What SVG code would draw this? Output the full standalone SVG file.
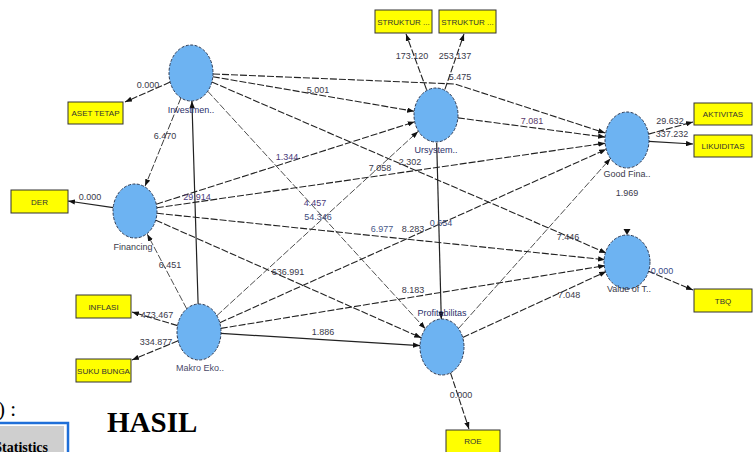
<svg xmlns="http://www.w3.org/2000/svg" width="756" height="452" viewBox="0 0 756 452">
<style>
.bg{fill:#ffffff}
.lv{fill:#6db3f2;stroke:#2b3a55;stroke-width:1;stroke-dasharray:3,1.5}
.ind{fill:#ffff00;stroke:#333333;stroke-width:1}
.e{fill:none;stroke:#222222;stroke-width:1.1;stroke-dasharray:7,2;marker-end:url(#ah)}
.s{fill:none;stroke:#222222;stroke-width:1.2;marker-end:url(#ah)}
.n{font-family:"Liberation Sans",Arial,sans-serif;font-size:9px;fill:#3a3a4a;text-anchor:middle}
.nl{font-family:"Liberation Sans",Arial,sans-serif;font-size:9px;fill:#2a2f6a;text-anchor:middle}
.bt{font-family:"Liberation Sans",Arial,sans-serif;font-size:8px;fill:#333333;text-anchor:middle}
.serif{font-family:"Liberation Serif","Times New Roman",serif;fill:#000000}
</style>
<defs>
<marker id="ah" viewBox="0 0 8 6" refX="8" refY="3" markerWidth="7" markerHeight="5.5" markerUnits="userSpaceOnUse" orient="auto">
<path d="M0,0 L8,3 L0,6 z" fill="#111111"/>
</marker>
</defs>
<rect class="bg" x="0" y="0" width="756" height="452"/>

<g id="connectors">
<line class="e" x1="212.8" y1="76.7" x2="414.2" y2="111.3"/>
<polyline class="e" points="213,74 455,84 605.2,133"/>
<line class="e" x1="211.8" y1="82" x2="606.2" y2="253"/>
<line class="e" x1="207.7" y1="91.2" x2="425.3" y2="328.8" style="stroke-width:0.8"/>
<line class="e" x1="180.9" y1="97.9" x2="145.1" y2="186.1" style="stroke-width:0.9"/>
<line class="s" x1="198.1" y1="304" x2="191.9" y2="101"/>
<line class="e" x1="186.7" y1="308.8" x2="147.3" y2="234.2" style="stroke-width:0.8"/>
<line class="e" x1="156.3" y1="204.2" x2="414.7" y2="121.8"/>
<line class="e" x1="156.8" y1="207.8" x2="605.2" y2="143.2"/>
<line class="e" x1="156.9" y1="213.3" x2="605.1" y2="259.7"/>
<line class="e" x1="155.8" y1="220.2" x2="421.2" y2="337.8"/>
<line class="e" x1="216.9" y1="315.6" x2="418.1" y2="131.4" style="stroke-width:0.8"/>
<line class="e" x1="219.8" y1="322.7" x2="606.2" y2="149.3"/>
<line class="e" x1="220.8" y1="328.4" x2="605.2" y2="265.6"/>
<line class="s" x1="221" y1="333.4" x2="420" y2="345.6"/>
<line class="e" x1="457.9" y1="117.9" x2="605.1" y2="137.1"/>
<line class="s" x1="436.7" y1="143" x2="441.3" y2="319"/>
<line class="e" x1="458.5" y1="328.5" x2="610.5" y2="158.5" style="stroke-width:0.8"/>
<line class="e" x1="462.7" y1="337.5" x2="606.3" y2="271.5"/>
<line class="e" x1="170.2" y1="82.1" x2="125" y2="102"/>
<line class="s" x1="113.2" y1="207.7" x2="68" y2="201"/>
<line class="e" x1="177.6" y1="325.6" x2="132" y2="312"/>
<line class="e" x1="178.1" y1="340.7" x2="132" y2="360"/>
<line class="e" x1="426.6" y1="89.7" x2="406" y2="34"/>
<line class="e" x1="444.9" y1="89.4" x2="464" y2="34"/>
<line class="e" x1="648.5" y1="134.1" x2="693" y2="122"/>
<line class="s" x1="649" y1="141.3" x2="693" y2="144"/>
<line class="e" x1="647.9" y1="270.9" x2="693" y2="290"/>
<line class="e" x1="450.5" y1="372.8" x2="469" y2="429"/>
<path d="M623.5,229 L630.5,229 L627,235 z" fill="#111111"/>
</g>

<g id="labels">
<text class="n" x="148" y="88">0.000</text>
<text class="n" x="165" y="139">6.470</text>
<text class="n" x="197" y="200" style="fill:#4a3a7a">29.914</text>
<text class="n" x="90" y="200">0.000</text>
<text class="n" x="170" y="268">6.451</text>
<text class="n" x="157" y="318">473.467</text>
<text class="n" x="156" y="345">334.877</text>
<text class="n" x="318" y="93">5.001</text>
<text class="n" x="287" y="160" style="fill:#4a3a7a">1.344</text>
<text class="n" x="380" y="171">7.058</text>
<text class="n" x="410" y="165">2.302</text>
<text class="n" x="315" y="206" style="fill:#4a3a7a">4.457</text>
<text class="n" x="318" y="220" style="fill:#3a4a7a">54.346</text>
<text class="n" x="382" y="232" style="fill:#4a5a8a">6.977</text>
<text class="n" x="413" y="232">8.283</text>
<text class="n" x="441" y="226" style="fill:#3a4a7a">0.654</text>
<text class="n" x="288" y="275">636.991</text>
<text class="n" x="413" y="293">8.183</text>
<text class="n" x="323" y="335">1.886</text>
<text class="n" x="412" y="59">173.120</text>
<text class="n" x="455" y="59">253.137</text>
<text class="n" x="460" y="80">5.475</text>
<text class="n" x="532" y="124" style="fill:#5a3a6a">7.081</text>
<text class="n" x="670" y="124">29.632</text>
<text class="n" x="672" y="137">337.232</text>
<text class="n" x="627" y="196">1.969</text>
<text class="n" x="568" y="240">7.446</text>
<text class="n" x="569" y="298">7.048</text>
<text class="n" x="662" y="274" style="fill:#3a4a8a">0.000</text>
<text class="n" x="461" y="398">0.000</text>
</g>

<g id="node-investment">
<ellipse class="lv" cx="191" cy="73" rx="22" ry="28"/>
<text class="nl" x="191" y="113">Investmen..</text>
</g>
<g id="node-financing">
<ellipse class="lv" cx="135" cy="211" rx="22" ry="27"/>
<text class="nl" x="133" y="250" style="fill:#3a3a4a">Financing</text>
</g>
<g id="node-makro">
<ellipse class="lv" cx="199" cy="332" rx="22" ry="28"/>
<text class="nl" x="200" y="371" style="fill:#4a4a6a">Makro Eko..</text>
</g>
<g id="node-ursystem">
<ellipse class="lv" cx="436" cy="115" rx="22" ry="27"/>
<text class="nl" x="436" y="153">Ursystem..</text>
</g>
<g id="node-profitabilitas">
<ellipse class="lv" cx="442" cy="347" rx="22" ry="28"/>
<text class="nl" x="442" y="316">Profitabilitas</text>
</g>
<g id="node-goodfina">
<ellipse class="lv" cx="627" cy="140" rx="22" ry="28"/>
<text class="nl" x="627" y="177" style="fill:#3a3a4a">Good Fina..</text>
</g>
<g id="node-value">
<ellipse class="lv" cx="627" cy="262" rx="23" ry="27"/>
<text class="nl" x="629" y="292" style="fill:#3a3a4a">Value of T..</text>
</g>

<g id="ind-aset"><rect class="ind" x="68" y="102" width="55" height="22"/><text class="bt" x="95.5" y="116">ASET TETAP</text></g>
<g id="ind-der"><rect class="ind" x="11" y="190" width="57" height="23"/><text class="bt" x="39.5" y="205">DER</text></g>
<g id="ind-inflasi"><rect class="ind" x="76" y="295" width="55" height="23"/><text class="bt" x="103.5" y="310">INFLASI</text></g>
<g id="ind-suku"><rect class="ind" x="76" y="359" width="55" height="23"/><text class="bt" x="103.5" y="374">SUKU BUNGA</text></g>
<g id="ind-struktur1"><rect class="ind" x="375" y="10" width="57" height="23"/><text class="bt" x="403.5" y="25">STRUKTUR ...</text></g>
<g id="ind-struktur2"><rect class="ind" x="439" y="10" width="57" height="23"/><text class="bt" x="467.5" y="25">STRUKTUR ...</text></g>
<g id="ind-aktivitas"><rect class="ind" x="694" y="103" width="58" height="22"/><text class="bt" x="723" y="117">AKTIVITAS</text></g>
<g id="ind-likuiditas"><rect class="ind" x="694" y="135" width="58" height="22"/><text class="bt" x="723" y="149">LIKUIDITAS</text></g>
<g id="ind-tbq"><rect class="ind" x="694" y="289" width="58" height="23"/><text class="bt" x="723" y="304">TBQ</text></g>
<g id="ind-roe"><rect class="ind" x="446" y="430" width="54" height="24"/><text class="bt" x="473" y="444">ROE</text></g>

<g id="page-fragment">
<text class="serif" x="-2" y="416" font-size="21">) :</text>
<rect x="-2" y="423" width="70" height="32" fill="none" stroke="#1f6fd8" stroke-width="2.5"/>
<rect x="0" y="426" width="64" height="28" fill="#cfcfcf"/>
<text class="serif" x="48" y="452" font-size="14" font-weight="bold" text-anchor="end">Statistics</text>
<text class="serif" x="107" y="432" font-size="29" font-weight="bold">HASIL</text>
</g>
</svg>
